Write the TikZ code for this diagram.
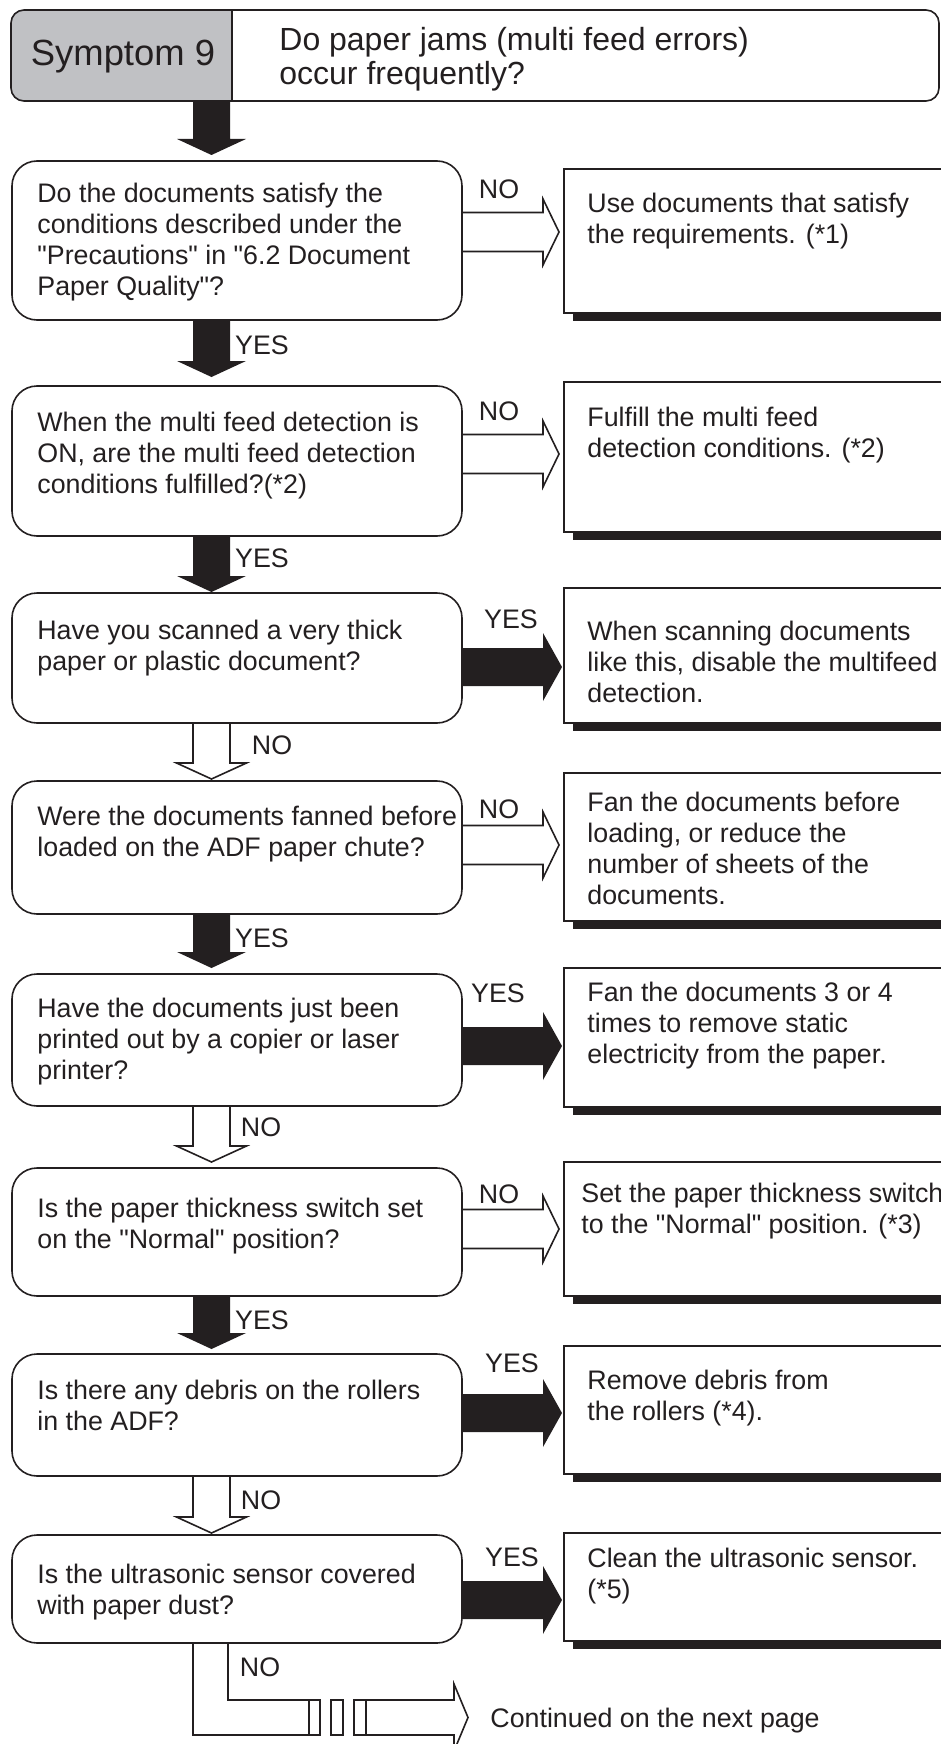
\documentclass[tikz,border=0pt]{standalone}
\usepackage{fontspec}
\setmainfont{Liberation Sans}[Ligatures=TeXOff]
\definecolor{symgray}{RGB}{192,193,196}
\definecolor{ink}{RGB}{35,31,32}
\newcommand\bodyfont{\fontsize{13.4}{15.5}\selectfont}
\tikzset{
 qbox/.style={draw=ink, line width=0.8pt, rounded corners=12.5pt},
 abox/.style={draw=ink, line width=0.8pt},
 txt/.style={anchor=north west, inner sep=0pt, align=left, font=\bodyfont, text=ink},
 lab/.style={anchor=base, inner sep=0pt, font=\bodyfont, text=ink},
 opn/.style={draw=ink, line width=0.8pt, line join=miter},
}
\newcommand\blkdown[3]{\fill[ink] (#1-18.5,#2) -- (#1+18.5,#2) -- (#1+18.5,#3-16) -- (#1+34.5,#3-16) -- (#1,#3) -- (#1-34.5,#3-16) -- (#1-18.5,#3-16) -- cycle;}
\newcommand\opndown[3]{\draw[opn] (#1-18.5,#2) -- (#1-18.5,#3-16) -- (#1-35,#3-16) -- (#1,#3) -- (#1+35,#3-16) -- (#1+18.5,#3-16) -- (#1+18.5,#2);}
\newcommand\blkright[1]{\fill[ink] (462,#1-19) -- (543,#1-19) -- (543,#1-34) -- (562,#1) -- (543,#1+34) -- (543,#1+19) -- (462,#1+19) -- cycle;}
\newcommand\opnright[1]{\draw[opn] (462,#1-19.5) -- (543,#1-19.5) -- (543,#1-33) -- (559,#1) -- (543,#1+33) -- (543,#1+19.5) -- (462,#1+19.5);}
\newcommand\ansbox[2]{\fill[ink] (573,#2) rectangle (970,#2+8); \fill[white] (564,#1) rectangle (960,#2); \draw[abox] (564,#1) rectangle (960,#2);}
\begin{document}
\begin{tikzpicture}[x=0.5pt,y=-0.5pt]
\useasboundingbox (0,0) rectangle (941,1744);
\clip (0,0) rectangle (941,1744);
% header
\begin{scope}
\clip (0,0) rectangle (232,120);
\fill[symgray, rounded corners=6.5pt] (11,10) rectangle (939,101);
\end{scope}
\draw[ink, line width=0.8pt, rounded corners=6.5pt] (11,10) rectangle (939,101);
\draw[ink, line width=0.8pt] (232,10) -- (232,101);
\node[anchor=base, inner sep=0pt, font=\fontsize{18.2}{21}\selectfont, text=ink] (sym) at (123,66) {Symptom 9};
\node[anchor=north west, inner sep=0pt, align=left, font=\fontsize{16}{16}\selectfont, text=ink] (symq) at (279,26.6) {\strut Do paper jams (multi feed errors)\\occur frequently?};
% vertical arrows
\blkdown{211.5}{101}{155}
\blkdown{211.5}{320}{377}
\blkdown{211.5}{536}{592}
\opndown{211.5}{723}{779}
\blkdown{211.5}{914}{968}
\opndown{211.5}{1106}{1162}
\blkdown{211.5}{1296}{1349}
\opndown{211.5}{1476}{1533}
% horizontal arrows
\opnright{232}
\opnright{454}
\blkright{667}
\opnright{845}
\blkright{1046}
\opnright{1229}
\blkright{1413}
\blkright{1600}
% final NO arrow
\draw[opn] (193,1643) -- (193,1735) -- (309,1735);
\draw[opn] (228,1643) -- (228,1700) -- (309,1700);
\draw[opn] (309,1700) rectangle (320,1735);
\draw[opn] (331,1700) rectangle (343,1735);
\draw[opn] (354,1700) rectangle (366,1735);
\draw[opn] (366,1700) -- (454,1700) -- (454,1684) -- (468,1717.5) -- (454,1751) -- (454,1735) -- (366,1735);
% question boxes
\draw[qbox] (12,161) rectangle (462,320);
\draw[qbox] (12,386) rectangle (462,536);
\draw[qbox] (12,593) rectangle (462,723);
\draw[qbox] (12,781) rectangle (462,914);
\draw[qbox] (12,974) rectangle (462,1106);
\draw[qbox] (12,1168) rectangle (462,1296);
\draw[qbox] (12,1354) rectangle (462,1476);
\draw[qbox] (12,1535) rectangle (462,1643);
% answer boxes
\ansbox{169}{313}
\ansbox{382}{532}
\ansbox{588}{723}
\ansbox{773}{921}
\ansbox{968}{1107}
\ansbox{1162}{1296}
\ansbox{1346}{1474}
\ansbox{1533}{1641}
% question texts
\node[txt] (q1) at (37,180) {\strut Do the documents satisfy the\\conditions described under the\\"Precautions" in "6.2 Document\\Paper Quality"?};
\node[txt] (q2) at (37,409) {\strut When the multi feed detection is\\ON, are the multi feed detection\\conditions fulfilled?(*2)};
\node[txt] (q3) at (37,617) {\strut Have you scanned a very thick\\paper or plastic document?};
\node[txt] (q4) at (37,803) {\strut Were the documents fanned before\\loaded on the ADF paper chute?};
\node[txt] (q5) at (37,995) {\strut Have the documents just been\\printed out by a copier or laser\\printer?};
\node[txt] (q6) at (37,1195) {\strut Is the paper thickness switch set\\on the "Normal" position?};
\node[txt] (q7) at (37,1377) {\strut Is there any debris on the rollers\\in the ADF?};
\node[txt] (q8) at (37,1561) {\strut Is the ultrasonic sensor covered\\with paper dust?};
% answer texts
\node[txt] (r1) at (587,190) {\strut Use documents that satisfy\\the requirements. (*1)};
\node[txt] (r2) at (587,404) {\strut Fulfill the multi feed\\detection conditions. (*2)};
\node[txt] (r3) at (587,618) {\strut When scanning documents\\like this, disable the multifeed\\detection.};
\node[txt] (r4) at (587,789) {\strut Fan the documents before\\loading, or reduce the\\number of sheets of the\\documents.};
\node[txt] (r5) at (587,979) {\strut Fan the documents 3 or 4\\times to remove static\\electricity from the paper.};
\node[txt] (r6) at (581,1180) {\strut Set the paper thickness switch\\to the "Normal" position. (*3)};
\node[txt] (r7) at (587,1367) {\strut Remove debris from\\the rollers (*4).};
\node[txt] (r8) at (587,1545) {\strut Clean the ultrasonic sensor.\\(*5)};
% labels
\node[lab] (n1) at (499,198.6) {NO};
\node[lab] (y1) at (262,354.6) {YES};
\node[lab] (n2) at (499,420.6) {NO};
\node[lab] (y2) at (262,567.6) {YES};
\node[lab] (y3) at (511,628) {YES};
\node[lab] (n3) at (272,754.6) {NO};
\node[lab] (n4) at (499,818.6) {NO};
\node[lab] (y4) at (262,947.6) {YES};
\node[lab] (y5) at (498,1002.6) {YES};
\node[lab] (n5) at (261,1136.6) {NO};
\node[lab] (n6) at (499,1203.6) {NO};
\node[lab] (y6) at (262,1329.6) {YES};
\node[lab] (y7) at (512,1372.6) {YES};
\node[lab] (n7) at (261,1509.6) {NO};
\node[lab] (y8) at (512,1566.6) {YES};
\node[lab] (n8) at (260,1676.6) {NO};
\node[anchor=base west, inner sep=0pt, font=\bodyfont, text=ink] (cont) at (490,1727) {Continued on the next page};
\end{tikzpicture}
\end{document}
